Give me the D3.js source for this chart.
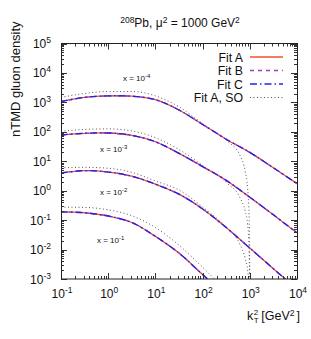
<!DOCTYPE html>
<html>
<head>
<meta charset="utf-8">
<script src="https://cdn.jsdelivr.net/npm/d3@7"></script>
<style>
  body { margin: 0; background: #fff; }
  text { font-family: "Liberation Sans", Arial, sans-serif; fill: #111; }
</style>
</head>
<body>
<svg id="chart" width="311" height="339"></svg>
<script>
// k_T^2 grid (GeV^2) for the fits
var kGrid = [0.1, 0.316, 1, 3.16, 10, 31.6, 100, 316, 1000, 3160, 10000]
// same grid, denser near mu^2 = 1000 for the SO curves
var kGridSO = [0.1, 0.316, 1, 3.16, 10, 31.6, 100, 316, 630, 800, 900, 950, 980, 995, 1000]

// Fit A (Fit B and Fit C lie on top of it)
var fitA_x4 = [1070, 1480, 1660, 1620, 1230, 550, 178, 56, 20, 6.0, 1.74]
var fitA_x3 = [78, 89, 91, 76, 46, 18.6, 6.6, 2.24, 0.60, 0.151, 0.037]
var fitA_x2 = [4.0, 4.8, 4.3, 3.1, 1.66, 0.76, 0.24, 0.056, 0.0112, 0.00224, 0.00045]
var fitA_x1 = [0.19, 0.178, 0.138, 0.083, 0.028, 0.0076, 0.00141, 0.00028]
var fitB_x4 = fitA_x4, fitB_x3 = fitA_x3, fitB_x2 = fitA_x2, fitB_x1 = fitA_x1
var fitC_x4 = fitA_x4, fitC_x3 = fitA_x3, fitC_x2 = fitA_x2, fitC_x1 = fitA_x1

// Fit A, SO
var so_x4 = [1480, 2000, 2340, 2340, 1660, 710, 190, 52, 15, 4.5, 1.2, 0.3, 0.05, 0.003, 1e-6]
var so_x3 = [105, 120, 126, 107, 63, 25, 7.2, 1.9, 0.55, 0.2, 0.071, 0.022, 0.004, 0.00032, 1e-6]
var so_x2 = [6.0, 6.2, 5.8, 4.2, 2.14, 1.05, 0.28, 0.056, 0.0141, 0.005, 0.002, 0.00063, 1e-4, 1e-5, 1e-6]
var so_x1 = [0.275, 0.27, 0.224, 0.141, 0.056, 0.0141, 0.0025, 0.0004]

var xTicks = [0.1, 1, 10, 100, 1000, 10000]
var yTicks = [1e-3, 1e-2, 1e-1, 1, 10, 100, 1e3, 1e4, 1e5]
var curveLabels = [
  { exp: '-4', x: 123, y: 81 },
  { exp: '-3', x: 100, y: 151.5 },
  { exp: '-2', x: 100, y: 195 },
  { exp: '-1', x: 97, y: 243 }
]
var legendNames = ['Fit A', 'Fit B', 'Fit C', 'Fit A, SO']

var styles = {
  A: { color: '#f2502c', dash: null },
  B: { color: '#a040b8', dash: '4,4' },
  C: { color: '#2020f0', dash: '7,3,1.5,3' },
  SO: { color: '#555', dash: '1,2.5' }
}

var svg = d3.select('#chart')
var pLeft = 61, pRight = 297, pTop = 43.5, pBottom = 279

var x = d3.scaleLog().domain([0.1, 10000]).range([pLeft, pRight])
var y = d3.scaleLog().domain([1e-3, 1e5]).range([pBottom, pTop])

svg.append('clipPath').attr('id', 'plotclip')
  .append('rect').attr('x', pLeft).attr('y', pTop)
  .attr('width', pRight - pLeft).attr('height', pBottom - pTop)

var line = function(ks, curve) {
  return d3.line()
    .x(function(d, i) { return x(ks[i]) })
    .y(function(d) { return y(d) })
    .curve(curve)
}

var plot = svg.append('g').attr('clip-path', 'url(#plotclip)')

var drawSet = function(series, ks, st, w, curve) {
  series.forEach(function(s) {
    plot.append('path')
      .attr('d', line(ks, curve)(s))
      .attr('fill', 'none')
      .attr('stroke', st.color)
      .attr('stroke-width', w)
      .attr('stroke-dasharray', st.dash)
  })
}

var smooth = d3.curveCatmullRom.alpha(0.5)
drawSet([so_x4, so_x3, so_x2, so_x1], kGridSO, styles.SO, 1, d3.curveMonotoneX)
drawSet([fitA_x4, fitA_x3, fitA_x2, fitA_x1], kGrid, styles.A, 1.3, smooth)
drawSet([fitB_x4, fitB_x3, fitB_x2, fitB_x1], kGrid, styles.B, 1.3, smooth)
drawSet([fitC_x4, fitC_x3, fitC_x2, fitC_x1], kGrid, styles.C, 1.3, smooth)

// ticks, inward on all four sides
var ticks = svg.append('g').attr('stroke', '#333').attr('stroke-width', 1)
var minor = function(domain) {
  var out = []
  for (var e = Math.round(Math.log10(domain[0])); e < Math.round(Math.log10(domain[1])); e++)
    for (var m = 2; m <= 9; m++) out.push(m * Math.pow(10, e))
  return out
}
xTicks.forEach(function(t) {
  var px = Math.round(x(t)) + 0.5
  ticks.append('line').attr('x1', px).attr('x2', px).attr('y1', pBottom).attr('y2', pBottom - 6)
  ticks.append('line').attr('x1', px).attr('x2', px).attr('y1', pTop).attr('y2', pTop + 6)
})
minor(x.domain()).forEach(function(t) {
  var px = Math.round(x(t)) + 0.5
  ticks.append('line').attr('x1', px).attr('x2', px).attr('y1', pBottom).attr('y2', pBottom - 3)
  ticks.append('line').attr('x1', px).attr('x2', px).attr('y1', pTop).attr('y2', pTop + 3)
})
yTicks.forEach(function(t) {
  var py = Math.round(y(t)) + 0.5
  ticks.append('line').attr('y1', py).attr('y2', py).attr('x1', pLeft).attr('x2', pLeft + 6)
  ticks.append('line').attr('y1', py).attr('y2', py).attr('x1', pRight).attr('x2', pRight - 6)
})
minor(y.domain()).forEach(function(t) {
  var py = Math.round(y(t)) + 0.5
  ticks.append('line').attr('y1', py).attr('y2', py).attr('x1', pLeft).attr('x2', pLeft + 3)
  ticks.append('line').attr('y1', py).attr('y2', py).attr('x1', pRight).attr('x2', pRight - 3)
})

svg.append('rect')
  .attr('x', pLeft + 0.5).attr('y', pTop)
  .attr('width', pRight - pLeft).attr('height', pBottom - pTop)
  .attr('fill', 'none').attr('stroke', '#222').attr('stroke-width', 1)

var expOf = function(t) { return String(Math.round(Math.log10(t))) }

// y tick labels
yTicks.forEach(function(t) {
  var tx = svg.append('text')
    .attr('x', 51).attr('y', y(t) + 4.5)
    .attr('text-anchor', 'end')
    .style('font-size', '12px')
  tx.append('tspan').text('10')
  tx.append('tspan').attr('dy', -5).style('font-size', '8.5px').text(expOf(t))
})

// x tick labels
xTicks.forEach(function(t) {
  var tx = svg.append('text')
    .attr('x', x(t) + 1).attr('y', 298)
    .attr('text-anchor', 'middle')
    .style('font-size', '12px')
  tx.append('tspan').text('10')
  tx.append('tspan').attr('dy', -5).style('font-size', '8.5px').text(expOf(t))
})

// title
var title = svg.append('text').attr('x', 180).attr('y', 27).attr('text-anchor', 'middle').style('font-size', '12px')
title.append('tspan').attr('dy', -4.5).style('font-size', '8.5px').text('208')
title.append('tspan').attr('dy', 4.5).text('Pb, \u03bc')
title.append('tspan').attr('dy', -4.5).style('font-size', '8.5px').text('2')
title.append('tspan').attr('dy', 4.5).text(' = 1000 GeV')
title.append('tspan').attr('dy', -4.5).style('font-size', '8.5px').text('2')

// axis titles
svg.append('text')
  .attr('transform', 'translate(19.5,137) rotate(-90)')
  .attr('text-anchor', 'start')
  .style('font-size', '13px')
  .text('nTMD gluon density')

var xl = svg.append('text').attr('x', 247).attr('y', 320).style('font-size', '12.5px')
xl.append('tspan').text('k')
xl.append('tspan').attr('dx', 0.5).attr('dy', 3).style('font-size', '8px').text('T')
xl.append('tspan').attr('dx', -4.8).attr('dy', -8.5).style('font-size', '8px').text('2')
xl.append('tspan').attr('dx', 3).attr('dy', 5.5).text('[GeV')
xl.append('tspan').attr('dy', -4.5).style('font-size', '8.5px').text('2')
xl.append('tspan').attr('dx', 2).attr('dy', 4.5).text(']')

// curve labels
curveLabels.forEach(function(c) {
  var tx = svg.append('text').attr('x', c.x).attr('y', c.y).style('font-size', '8px')
  tx.append('tspan').text('x = 10')
  tx.append('tspan').attr('dy', -3).style('font-size', '6px').text(c.exp)
})

// legend
var legendStyles = [styles.A, styles.B, styles.C, styles.SO]
var legendY = [57, 70.5, 84, 97.5]
legendNames.forEach(function(n, i) {
  svg.append('text')
    .attr('x', 243).attr('y', legendY[i] + 4.5)
    .attr('text-anchor', 'end')
    .style('font-size', '12.3px')
    .text(n)
  svg.append('line')
    .attr('x1', 250).attr('x2', 283)
    .attr('y1', legendY[i]).attr('y2', legendY[i])
    .attr('stroke', legendStyles[i].color)
    .attr('stroke-width', i === 3 ? 1 : 1.3)
    .attr('stroke-dasharray', legendStyles[i].dash)
})
</script>
</body>
</html>
